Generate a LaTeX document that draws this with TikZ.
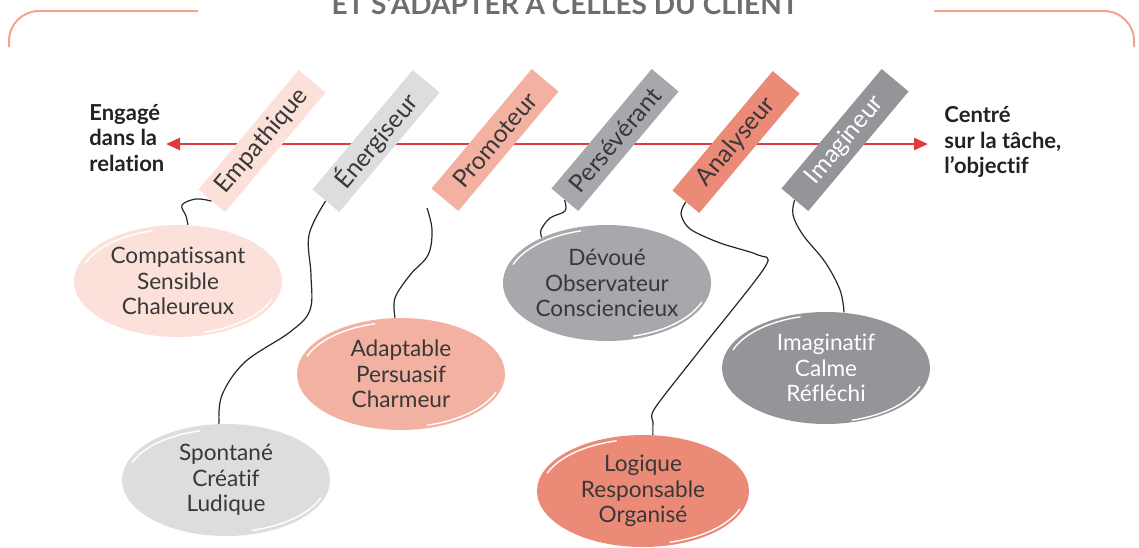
\documentclass[tikz,border=0pt]{standalone}
\usepackage{fontspec}
\setmainfont{Lato}[Ligatures={NoCommon}]
\usetikzlibrary{arrows.meta,shapes.geometric}
\pgfdeclarelayer{background}
\pgfsetlayers{background,main}
\definecolor{cPink}{HTML}{FBE1D9}
\definecolor{cLGrey}{HTML}{DCDDDF}
\definecolor{cSalmon}{HTML}{F3B2A1}
\definecolor{cMGrey}{HTML}{A7A8AB}
\definecolor{cCoral}{HTML}{EA8A77}
\definecolor{cDGrey}{HTML}{939598}
\definecolor{cRed}{HTML}{E0393E}
\definecolor{cFrame}{HTML}{F2A48F}
\definecolor{cTitle}{HTML}{6D6E71}
\definecolor{cText}{HTML}{383838}
\definecolor{cDark}{HTML}{222222}
\newcommand\blobhl[5]{%
  \draw[hl] ([shift={(200:#2 and #3)}]#1.center) arc[start angle=200,end angle=255,x radius=#2,y radius=#3];
  \draw[hl] ([shift={(20:#4 and #5)}]#1.center) arc[start angle=20,end angle=75,x radius=#4,y radius=#5];}
\begin{document}
\begin{tikzpicture}[x=0.5pt,y=-0.5pt,
  tag/.style={rectangle, minimum width=78pt, minimum height=17.5pt, inner sep=0pt,
    rotate=50, font=\fontsize{12.3pt}{13pt}\selectfont, text=cText},
  blob/.style={ellipse, inner sep=0pt, minimum width=104pt, minimum height=56pt,
    align=center, font=\fontsize{11.3pt}{12.75pt}\selectfont, text=cText},
  conn/.style={line width=0.6pt, black!85},
  hl/.style={white, line width=0.7pt},
  side/.style={font=\bfseries\fontsize{11pt}{12.75pt}\selectfont, align=left,
    inner sep=0pt, text=cDark},
  frame/.style={cFrame, line width=1pt, rounded corners=15pt},
  redarrow/.style={cRed, line width=1.35pt,
    {Triangle[length=7pt,width=6pt]}-{Triangle[length=7pt,width=6pt]}}
]
\useasboundingbox (0,0) rectangle (1139,547);
\clip (0,0) rectangle (1139,547);

% title (cut by the top edge)
\node[font=\bfseries\fontsize{14pt}{14pt}\selectfont, text=cTitle, anchor=base, inner sep=0pt]
  (title) at (565,14) {ET S’ADAPTER À CELLES DU CLIENT};

% frame
\draw[frame] (9,47) -- (9,11) -- (198,11);
\draw[frame] (934,11) -- (1134,11) -- (1134,47);

% side labels
\node[side, anchor=west] (lleft) at (89,138) {Engagé\\dans la\\relation};
\node[side, anchor=west] (lright) at (944,142) {Centré\\sur la tâche,\\l’objectif};
\coordinate (aL) at (166,144);
\coordinate (aR) at (928,144);

% tags
\node[tag, fill=cPink] (emp) at (262,141) {Empathique};
\node[tag, fill=cLGrey] (ener) at (376,141) {Énergiseur};
\node[tag, fill=cSalmon] (prom) at (495,140) {Promoteur};
\node[tag, fill=cMGrey] (pers) at (615,140) {Persévérant};
\node[tag, fill=cCoral] (ana) at (736,142) {Analyseur};
\node[tag, fill=cDGrey, text=white] (imgr) at (845,140) {Imagineur};
\coordinate (promc) at (427,208);

% blobs
\node[blob, fill=cPink] (comp) at (178,281) {Compatissant\\Sensible\\Chaleureux};
\node[blob, fill=cLGrey] (spont) at (226,480) {Spontané\\Créatif\\Ludique};
\node[blob, fill=cSalmon] (adapt) at (401,374) {Adaptable\\Persuasif\\Charmeur};
\node[blob, fill=cMGrey, minimum height=58pt] (devoue) at (607,283) {Dévoué\\Observateur\\Consciencieux};
\node[blob, fill=cDGrey, text=white] (imag) at (826,368) {Imaginatif\\Calme\\Réfléchi};
\node[blob, fill=cCoral, minimum width=106pt] (logi) at (643,491) {Logique\\Responsable\\Organisé};

\blobhl{comp}{99}{52}{100}{53}
\blobhl{spont}{100}{51}{101}{52}
\blobhl{adapt}{100}{52}{101}{53}
\blobhl{devoue}{100}{54}{101}{55}
\blobhl{imag}{99}{53}{100}{54}
\blobhl{logi}{102}{52}{103}{53}

\begin{pgfonlayer}{background}
  \draw[redarrow] (aL) -- (aR);
  \draw[conn] plot[smooth, tension=0.6] coordinates
    {(emp.west) (196,199) (182,205) (186,216) (comp.80)};
  \draw[conn] plot[smooth, tension=0.6] coordinates
    {(ener.west) (309,235) (311,275) (310,310) (290,332) (245,362) (222,395) (spont.97)};
  \draw[conn] plot[smooth, tension=0.6] coordinates
    {(promc) (432,230) (428,255) (410,275) (395,298) (adapt.96)};
  \draw[conn] plot[smooth, tension=0.6] coordinates
    {(pers.west) (565,211) (550,218) (541,230) (devoue.145)};
  \draw[conn] plot[smooth, tension=0.5] coordinates
    {(ana.west) (681,214) (690,229) (720,243) (758,255) (765,267) (700,350) (655,408) (653,422) (logi.80)};
  \draw[conn] plot[smooth, tension=0.6] coordinates
    {(imgr.west) (793,215) (803,235) (825,262) (840,290) (imag.72)};
\end{pgfonlayer}
\end{tikzpicture}
\end{document}
